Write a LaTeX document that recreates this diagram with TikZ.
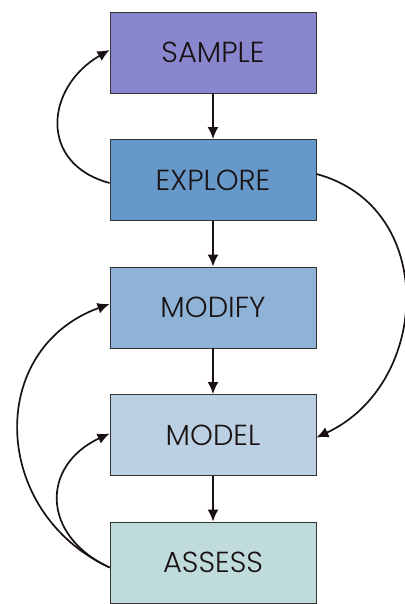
\documentclass[tikz,border=0pt]{standalone}
\usepackage{fontspec}
\setmainfont{Poppins}[UprightFont={* Light}]
\usepackage{xcolor}
\usetikzlibrary{positioning,arrows.meta}

\definecolor{samplecol}{HTML}{8887CE}
\definecolor{explorecol}{HTML}{6699C9}
\definecolor{modifycol}{HTML}{8FB3D7}
\definecolor{modelcol}{HTML}{BBD1E3}
\definecolor{assesscol}{HTML}{C0DBDB}
\definecolor{ink}{HTML}{1A1212}

\tikzset{
  stage/.style={draw=black!80, line width=0.9pt, minimum width=206pt, minimum height=81pt,
    inner sep=0pt, text=ink, font=\fontsize{29}{34}\selectfont},
  flow/.style={draw=ink, line width=1.7pt, -{Latex[length=12pt,width=11pt]}}
}

\begin{document}
\begin{tikzpicture}[x=1pt, y=1pt, node distance=45.6pt]
\useasboundingbox (0,0) rectangle (404,604);

\node[stage, fill=samplecol] (sample) at (213,551.5) {SAMPLE};
\node[stage, fill=explorecol, below=of sample] (explore) {EXPLORE};
\node[stage, fill=modifycol, below=of explore] (modify) {MODIFY};
\node[stage, fill=modelcol, below=of modify] (model) {MODEL};
\node[stage, fill=assesscol, below=of model] (assess) {ASSESS};

% main chain
\draw[flow] (sample) -- (explore);
\draw[flow] (explore) -- (modify);
\draw[flow] (modify) -- (model);
\draw[flow] (model) -- (assess);

% feedback loops
\draw[flow] ([yshift=-3pt]explore.west) to[out=165, in=210, looseness=1.43] ([yshift=2.5pt]sample.west);
\draw[flow] ([yshift=6pt]explore.east) to[out=-15, in=25, looseness=1.23] ([yshift=-2.5pt]model.east);
\draw[flow] ([yshift=-5pt]assess.west) to[out=155, in=200, looseness=1.28] ([yshift=3.5pt]modify.west);
\draw[flow] ([yshift=-5pt]assess.west) to[out=155, in=205, looseness=1.45] ([yshift=1.5pt]model.west);
\end{tikzpicture}
\end{document}
